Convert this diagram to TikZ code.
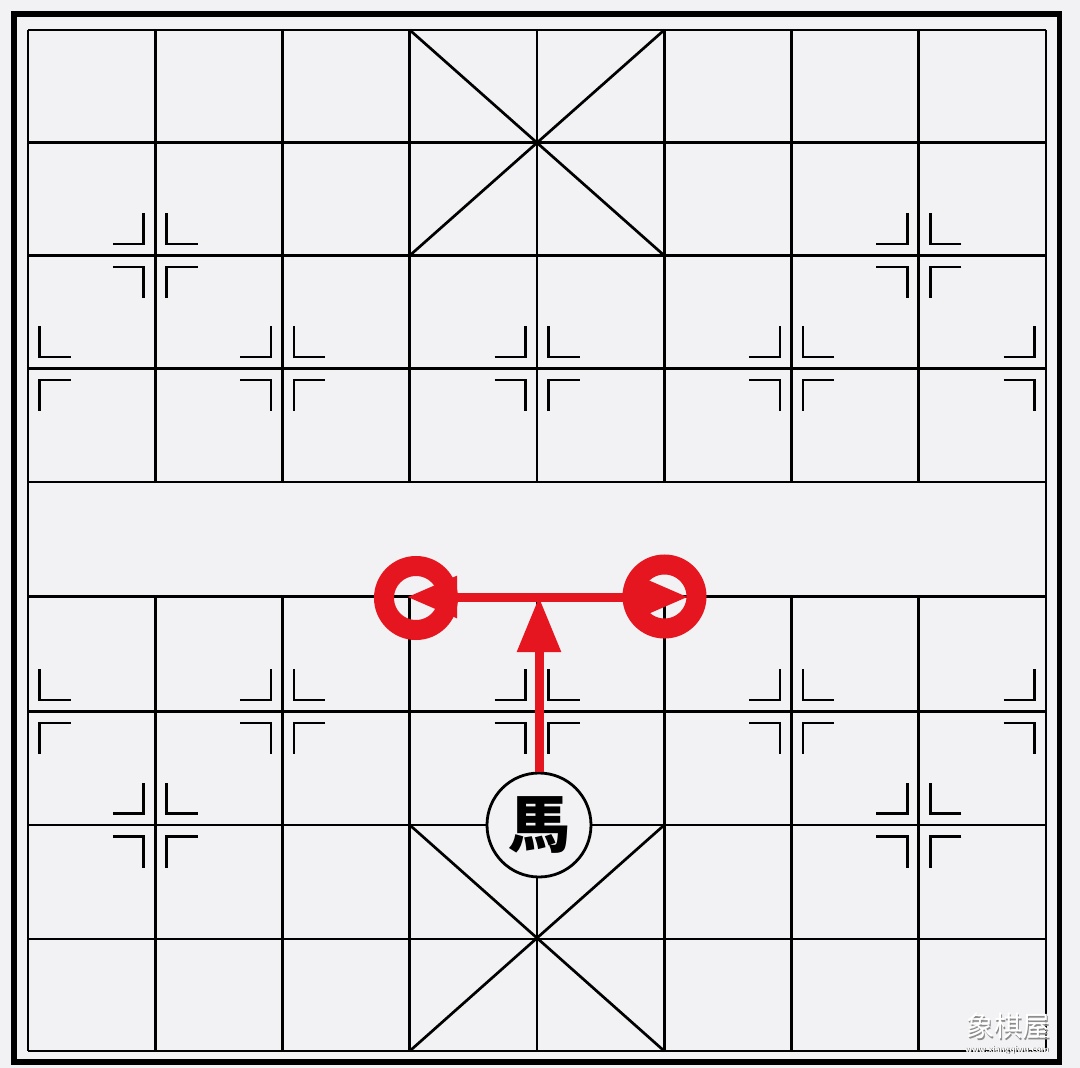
\documentclass[tikz,border=0pt]{standalone}
\usepackage{fontspec}
\newfontfamily\cjk{Noto Sans CJK TC}
\usetikzlibrary{arrows.meta}
\definecolor{bg}{RGB}{242,241,243}
\definecolor{xqred}{RGB}{230,22,32}
\newcommand\mkL[2]{%
  \draw[gridline] ({#1-42.5},{#2-11.5}) -- ({#1-11.5},{#2-11.5}) -- ({#1-11.5},{#2-42.5});
  \draw[gridline] ({#1-42.5},{#2+11.5}) -- ({#1-11.5},{#2+11.5}) -- ({#1-11.5},{#2+42.5});}
\newcommand\mkR[2]{%
  \draw[gridline] ({#1+42.5},{#2-11.5}) -- ({#1+11.5},{#2-11.5}) -- ({#1+11.5},{#2-42.5});
  \draw[gridline] ({#1+42.5},{#2+11.5}) -- ({#1+11.5},{#2+11.5}) -- ({#1+11.5},{#2+42.5});}
\begin{document}
\begin{tikzpicture}[x=1pt,y=-1pt,
  gridline/.style={line width=2.7pt,black},
  ring/.style={circle,draw=xqred,line width=20pt,minimum size=64pt,inner sep=0pt},
  redline/.style={draw=xqred,line width=9pt},
  piece/.style={circle,draw=black,line width=2.8pt,fill=bg,minimum size=104pt,inner sep=0pt}]
\useasboundingbox (0,0) rectangle (1080,1068);
\fill[bg] (0,0) rectangle (1080,1068);
\draw[line width=5.5pt] (14,14) rectangle (1059.5,1062);
% horizontal lines
\foreach \y in {30,142.7,255.5,368.5,482,596.8,711.5,825,939,1051}
  \draw[gridline] (28,\y) -- (1046,\y);
% vertical lines
\foreach \x in {28,1046}
  \draw[gridline] (\x,30) -- (\x,1051);
\foreach \x in {155.25,282.5,409.75,537,664.25,791.5,918.75}{
  \draw[gridline] (\x,30) -- (\x,482);
  \draw[gridline] (\x,596.8) -- (\x,1051);}
% palaces
\draw[gridline] (409.75,30) -- (664.25,255.5);
\draw[gridline] (664.25,30) -- (409.75,255.5);
\draw[gridline] (409.75,825) -- (664.25,1051);
\draw[gridline] (664.25,825) -- (409.75,1051);
% markers
\foreach \x/\y in {155.25/255.5,918.75/255.5,282.5/368.5,537/368.5,791.5/368.5,
                   155.25/825,918.75/825,282.5/711.5,537/711.5,791.5/711.5,
                   1046/368.5,1046/711.5}
  {\mkL{\x}{\y}}
\foreach \x/\y in {155.25/255.5,918.75/255.5,282.5/368.5,537/368.5,791.5/368.5,
                   155.25/825,918.75/825,282.5/711.5,537/711.5,791.5/711.5,
                   28/368.5,28/711.5}
  {\mkR{\x}{\y}}
% horse
\node[piece] (h) at (539,825) {\cjk\bfseries\fontsize{62}{62}\selectfont 馬};
% targets
\node[ring] (cl) at (416,598) {};
\node[ring] (cr) at (664.5,596.5) {};
\coordinate (J) at (539,597);
\coordinate (L) at (407,597);
\coordinate (R) at (688,597);
\draw[redline,-{Triangle[length=55pt,width=42pt]}] (h.north) -- (J);
\draw[redline,{Triangle[length=50pt,width=40pt]}-{Triangle[length=50pt,width=40pt]}] (L) -- (R);
% watermark
\node[text=black!45,font=\cjk\fontsize{28}{28}\selectfont] (wms) at (1009.5,1027.5) {象棋屋};
\node[text=white,font=\cjk\fontsize{28}{28}\selectfont] (wm) at (1008,1026) {象棋屋};
\node[text=black!55,font=\sffamily\bfseries\fontsize{9}{9}\selectfont] (urls) at (1007.8,1050.8) {www.xiangqiwu.com};
\node[text=white,font=\sffamily\bfseries\fontsize{9}{9}\selectfont] (url) at (1007,1050) {www.xiangqiwu.com};
\end{tikzpicture}
\end{document}
